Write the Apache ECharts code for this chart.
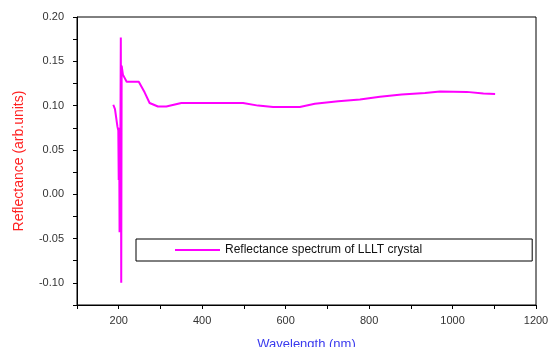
<!DOCTYPE html>
<html>
<head>
<meta charset="utf-8">
<script src="https://cdn.jsdelivr.net/npm/echarts@6/dist/echarts.min.js"></script>
<style>
    html, body {margin: 0; padding: 0; background: #fff;}
    #chart {width: 550px; height: 347px;}
</style>
</head>
<body>
<div id="chart"></div>
<script>
// 波长 (nm)
var wavelength = [187, 191, 197, 199, 200, 201, 202, 204, 205, 206, 207, 210, 219, 248, 262, 274, 294, 314,
    350, 420, 498, 534, 570, 634, 670, 726, 778, 826, 878, 934, 970, 1034, 1074, 1102];
// 反射率
var reflectance = [0.101, 0.096, 0.076, 0.072, 0.016, 0.075, -0.043, 0.070, 0.177, -0.100, 0.145, 0.135, 0.127,
    0.127, 0.115, 0.103, 0.099, 0.099, 0.103, 0.103, 0.103, 0.100, 0.0985, 0.0985, 0.102, 0.105, 0.107,
    0.110, 0.1125, 0.1143, 0.116, 0.1155, 0.1136, 0.113];
var seriesName = 'Reflectance spectrum of LLLT crystal';

var points = [];
for (var i = 0; i < wavelength.length; i++) {
    points.push([wavelength[i], reflectance[i]]);
}

var chart = echarts.init(document.getElementById('chart'));
var option = {
    animation: false,
    grid: {
        left: 77,
        right: 14,
        top: 17,
        bottom: 42,
        containLabel: false,
        outerBoundsMode: 'none',
        show: true,
        borderColor: '#000',
        borderWidth: 1
    },
    legend: {
        left: 136,
        top: 239,
        padding: [5, 110, 5, 39],
        borderColor: '#000',
        borderWidth: 1,
        itemWidth: 45,
        itemHeight: 2,
        itemGap: 5,
        icon: 'rect',
        textStyle: {
            fontFamily: 'Liberation Sans',
            fontSize: 12,
            color: '#111'
        },
        data: [seriesName]
    },
    xAxis: {
        type: 'value',
        min: 100,
        max: 1200,
        interval: 100,
        name: 'Wavelength (nm)',
        nameLocation: 'middle',
        nameGap: 33,
        nameTextStyle: {
            fontFamily: 'Liberation Sans',
            fontSize: 13,
            color: '#3a3aee'
        },
        splitLine: {show: false},
        axisLine: {onZero: false, lineStyle: {color: '#000'}},
        axisTick: {length: 4, lineStyle: {color: '#000'}},
        axisLabel: {
            fontFamily: 'Liberation Sans',
            fontSize: 11,
            color: '#333',
            margin: 10,
            formatter: function (v) {
                return v % 200 === 0 ? String(v) : '';
            }
        }
    },
    yAxis: {
        type: 'value',
        min: -0.125,
        max: 0.2,
        interval: 0.025,
        name: 'Reflectance (arb.units)',
        nameLocation: 'middle',
        nameGap: 51,
        nameTextStyle: {
            fontFamily: 'Liberation Sans',
            fontSize: 14,
            color: '#ff2222'
        },
        splitLine: {show: false},
        axisLine: {onZero: false, lineStyle: {color: '#000'}},
        axisTick: {length: 4, lineStyle: {color: '#000'}},
        axisLabel: {
            fontFamily: 'Liberation Sans',
            fontSize: 11,
            color: '#333',
            margin: 13,
            formatter: function (v) {
                var k = Math.round(v * 1000);
                return k % 50 === 0 ? (k / 1000).toFixed(2) : '';
            }
        }
    },
    series: [
        {
            name: seriesName,
            type: 'line',
            data: points,
            symbol: 'none',
            lineStyle: {color: '#ff00ff', width: 2},
            itemStyle: {color: '#ff00ff'}
        }
    ]
};
chart.setOption(option);
</script>
</body>
</html>
